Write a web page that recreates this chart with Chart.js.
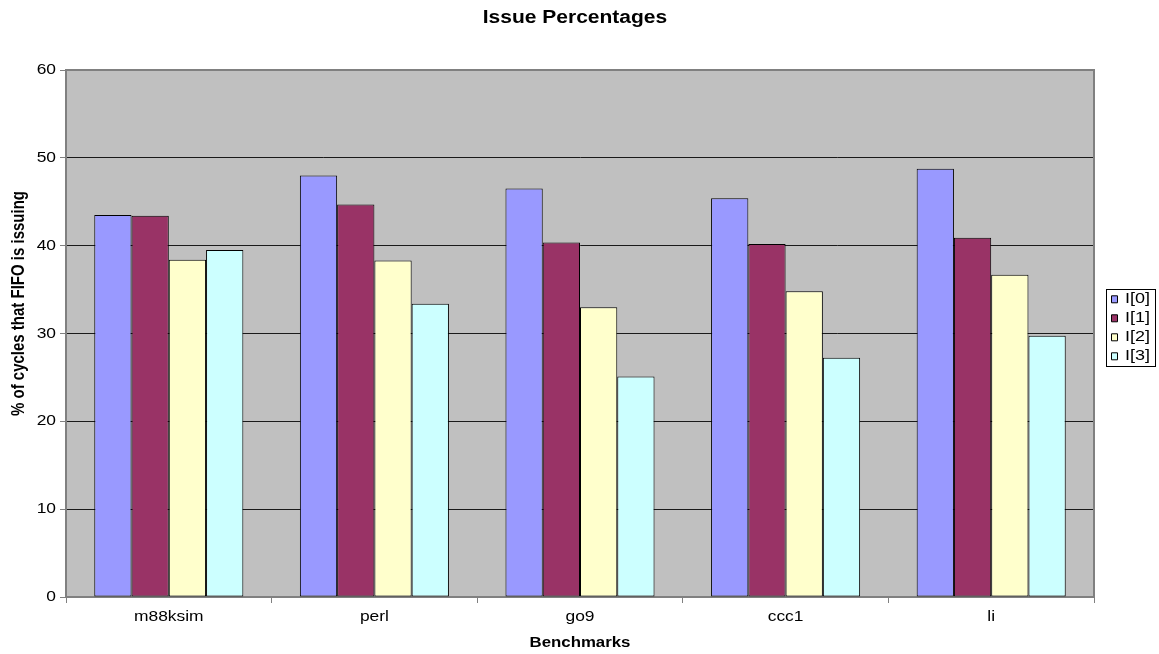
<!DOCTYPE html>
<html>
<head>
<meta charset="utf-8">
<title>Issue Percentages</title>
<script src="https://cdn.jsdelivr.net/npm/chart.js@4.4.1/dist/chart.umd.min.js"></script>
<style>
  html, body { margin: 0; padding: 0; background: #ffffff; }
  #wrap { width: 1159px; height: 654px; }
</style>
</head>
<body>
<div id="wrap"><canvas id="chart" width="1159" height="654"></canvas></div>
<script>
// Benchmarks on the x axis
const benchmarks = ['m88ksim', 'perl', 'go9', 'ccc1', 'li'];

// % of cycles that each FIFO slot is issuing, per benchmark
const issue0 = [43.5, 48.0, 46.5, 45.4, 48.75];
const issue1 = [43.4, 44.7, 40.35, 40.2, 40.9];
const issue2 = [38.4, 38.3, 33.0, 34.8, 36.7];
const issue3 = [39.5, 33.4, 25.1, 27.25, 29.75];

const seriesNames = ['I[0]', 'I[1]', 'I[2]', 'I[3]'];
const seriesValues = [issue0, issue1, issue2, issue3];
const seriesColors = ['#9999FF', '#993366', '#FFFFCC', '#CCFFFF'];

// Value axis ticks
const yTicks = [0, 10, 20, 30, 40, 50, 60];
const yAxisTitle = '% of cycles that FIFO is issuing';

const FONT = "'Liberation Sans', Arial, Helvetica, sans-serif";
Chart.defaults.font.family = FONT;
Chart.defaults.color = '#000000';

const AXIS_GRAY = '#808080';

// Text on this chart is set slightly wide: every string is widened
// horizontally (in screen space) around its own anchor point.
const TEXT_WIDEN = 1.2;
const canvas = document.getElementById('chart');
const ctx2d = canvas.getContext('2d');
const nativeFillText = ctx2d.fillText.bind(ctx2d);
ctx2d.fillText = function (text, x, y, maxWidth) {
  const m = this.getTransform();
  const px = m.a * x + m.c * y + m.e;
  const py = m.b * x + m.d * y + m.f;
  this.save();
  this.setTransform(new DOMMatrix().translate(px, py).scale(TEXT_WIDEN, 1).translate(-px, -py).multiply(m));
  if (maxWidth === undefined) nativeFillText(text, x, y);
  else nativeFillText(text, x, y, maxWidth / TEXT_WIDEN);
  this.restore();
};

// Grey plot background, frame and the value-axis caption
const plotFrame = {
  id: 'plotFrame',
  beforeDraw(chart) {
    const { ctx, chartArea: a } = chart;
    ctx.save();
    ctx.fillStyle = '#C0C0C0';
    ctx.fillRect(a.left, a.top, a.right - a.left, a.bottom - a.top);
    ctx.restore();
  },
  beforeDatasetsDraw(chart) {
    const { ctx, chartArea: a } = chart;
    ctx.save();
    ctx.strokeStyle = AXIS_GRAY;
    ctx.lineWidth = 2;
    ctx.beginPath();
    ctx.moveTo(a.left, a.top);
    ctx.lineTo(a.right, a.top);
    ctx.lineTo(a.right, a.bottom);
    ctx.stroke();
    ctx.restore();
  },
  afterDraw(chart) {
    const { ctx, chartArea: a } = chart;
    ctx.save();
    ctx.translate(18.6, (a.top + a.bottom) / 2 - 30);
    ctx.rotate(-Math.PI / 2);
    ctx.font = "bold 15px " + FONT;
    ctx.fillStyle = '#000000';
    ctx.textAlign = 'center';
    ctx.textBaseline = 'middle';
    ctx.fillText(yAxisTitle, 0, 0);
    ctx.restore();
  }
};

// Title centring and the framed legend to the right of the plot
const boxPlacement = {
  id: 'boxPlacement',
  afterUpdate(chart) {
    const tb = chart.titleBlock;
    if (tb) {
      tb.left = 0;
      tb.right = 1150;
      tb.width = 1150;
    }
    const lg = chart.legend;
    if (lg) {
      const w = 50, h = 200;
      lg.left = 1107.5;
      lg.top = 287.8;
      lg.right = lg.left + w;
      lg.bottom = lg.top + h;
      lg.width = w;
      lg.height = h;
      lg.adjustHitBoxes();
    }
  },
  afterDraw(chart) {
    const { ctx } = chart;
    ctx.save();
    ctx.strokeStyle = '#000000';
    ctx.lineWidth = 1;
    ctx.strokeRect(1106.5, 289.5, 49, 77);
    ctx.restore();
  }
};

const datasets = seriesNames.map((name, i) => ({
  label: name,
  data: seriesValues[i],
  backgroundColor: seriesColors[i],
  borderColor: '#000000',
  borderWidth: 1,
  borderSkipped: false,
  categoryPercentage: 0.725,
  barPercentage: 1.0
}));

new Chart(canvas, {
  type: 'bar',
  data: { labels: benchmarks, datasets },
  options: {
    responsive: false,
    animation: false,
    layout: { padding: { left: 10, right: 65, top: 0, bottom: 0 } },
    plugins: {
      title: {
        display: true,
        text: 'Issue Percentages',
        color: '#000000',
        font: { family: FONT, size: 17.5, weight: 'bold' },
        padding: { top: 7.3, bottom: 41.7 }
      },
      legend: {
        display: true,
        position: 'chartArea',
        align: 'start',
        labels: {
          boxWidth: 6,
          boxHeight: 7,
          padding: 4,
          color: '#000000',
          font: { family: FONT, size: 15 }
        }
      },
      tooltip: { enabled: false }
    },
    scales: {
      x: {
        grid: {
          display: true,
          drawOnChartArea: false,
          drawTicks: true,
          tickLength: 6,
          tickColor: AXIS_GRAY,
          tickWidth: 1,
          offset: true
        },
        border: { display: true, color: AXIS_GRAY, width: 2 },
        ticks: {
          color: '#000000',
          font: { family: FONT, size: 14.5 },
          padding: 5.6
        },
        title: {
          display: true,
          text: 'Benchmarks',
          color: '#000000',
          font: { family: FONT, size: 14, weight: 'bold' },
          padding: { top: 0, bottom: 2.6 }
        },
        afterFit(scale) { scale.height = 57; }
      },
      y: {
        min: yTicks[0],
        max: yTicks[yTicks.length - 1],
        afterBuildTicks(scale) { scale.ticks = yTicks.map(v => ({ value: v })); },
        grid: {
          color: ctx => (ctx.tick && (ctx.tick.value === yTicks[0] || ctx.tick.value === yTicks[yTicks.length - 1])) ? AXIS_GRAY : '#1a1a1a',
          lineWidth: 1,
          drawTicks: true,
          tickLength: 6,
          tickColor: AXIS_GRAY
        },
        border: { display: true, color: AXIS_GRAY, width: 2 },
        ticks: {
          color: '#000000',
          font: { family: FONT, size: 14.5 },
          padding: 4
        },
        title: { display: false },
        afterFit(scale) { scale.width = 56; }
      }
    }
  },
  plugins: [plotFrame, boxPlacement]
});
</script>
</body>
</html>
